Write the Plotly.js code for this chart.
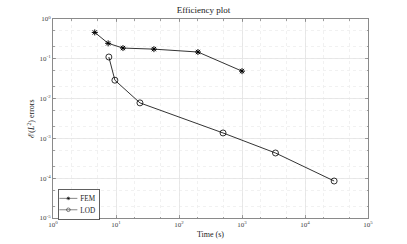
<!DOCTYPE html>
<html>
<head>
<meta charset="utf-8">
<script src="https://cdn.plot.ly/plotly-3.0.1.min.js"></script>
<style>html,body{margin:0;padding:0;background:#fff;}#plot{width:407px;height:244px;}</style>
</head>
<body>
<div id="plot"></div>
<script>
const femTime = [4.6, 7.5, 12.9, 40, 200, 1000];
const femErr = [0.46, 0.245, 0.186, 0.175, 0.148, 0.049];
const lodTime = [7.7, 9.6, 24, 500, 3400, 29000];
const lodErr = [0.111, 0.029, 0.0078, 0.00137, 0.00043, 0.000085];
const xTickVals = [1, 10, 100, 1000, 10000, 100000];
const xTickText = ['10<sup>0</sup>','10<sup>1</sup>','10<sup>2</sup>','10<sup>3</sup>','10<sup>4</sup>','10<sup>5</sup>'];
const yTickVals = [1e-5, 1e-4, 1e-3, 1e-2, 1e-1, 1];
const yTickText = ['10<sup>-5</sup>','10<sup>-4</sup>','10<sup>-3</sup>','10<sup>-2</sup>','10<sup>-1</sup>','10<sup>0</sup>'];

const serif = '"Liberation Serif", "DejaVu Serif", serif';
const axisCommon = {
  type: 'log', automargin: false,
  showline: true, linecolor: '#8a8a8a', linewidth: 1, mirror: 'ticks',
  ticks: 'inside', ticklen: 3, tickcolor: '#8a8a8a', tickwidth: 0.8,
  showgrid: true, gridcolor: '#e3e3e3', gridwidth: 0.8,
  minor: {showgrid: true, gridcolor: '#eeeeee', griddash: 'dot', gridwidth: 0.8, ticks: 'inside', ticklen: 1.5, tickcolor: '#8a8a8a'},
  zeroline: false,
  tickfont: {family: serif, size: 7, color: '#444'}
};
const data = [
  {x: femTime, y: femErr, name: 'FEM', mode: 'lines+markers',
   line: {color: '#000', width: 0.8},
   marker: {symbol: 'asterisk-open', size: 5, color: '#000', line: {color: '#000', width: 1}}},
  {x: lodTime, y: lodErr, name: 'LOD', mode: 'lines+markers',
   line: {color: '#000', width: 0.8},
   marker: {symbol: 'circle-open', size: 6, color: '#000', line: {color: '#000', width: 0.8}}}
];
const layout = {
  width: 407, height: 244,
  margin: {l: 53, r: 39, t: 19, b: 26, autoexpand: false},
  paper_bgcolor: '#fff', plot_bgcolor: '#fff',
  font: {family: serif, color: '#000'},
  title: {text: 'Efficiency plot', font: {family: serif, size: 9, color: '#222'}, x: 0.5, xanchor: 'center', y: 0.96, yanchor: 'middle'},
  xaxis: Object.assign({}, axisCommon, {range: [0, 5], tickvals: xTickVals, ticktext: xTickText,
    title: {text: 'Time (s)', font: {family: serif, size: 8, color: '#222'}, standoff: 2}}),
  yaxis: Object.assign({}, axisCommon, {range: [-5, 0], tickvals: yTickVals, ticktext: yTickText,
    title: {text: 'ℰ(<i>L</i><sup>2</sup>) errors', font: {family: serif, size: 8, color: '#222'}, standoff: 3}}),
  showlegend: true,
  legend: {x: 0.016, y: 0.146, xanchor: 'left', yanchor: 'top', bgcolor: '#fff', bordercolor: '#222', borderwidth: 1.2,
    font: {family: serif, size: 12, color: '#222'}, tracegroupgap: 0, itemwidth: 30, indentation: -4},
};
Plotly.newPlot('plot', data, layout, {displayModeBar: false, staticPlot: true}).then(function (gd) {
  const lg = gd.querySelector('g.legend');
  if (lg) {
    const t = lg.getAttribute('transform') || '';
    lg.setAttribute('transform', t + ' scale(0.6)');
  }
});
</script>
</body>
</html>
